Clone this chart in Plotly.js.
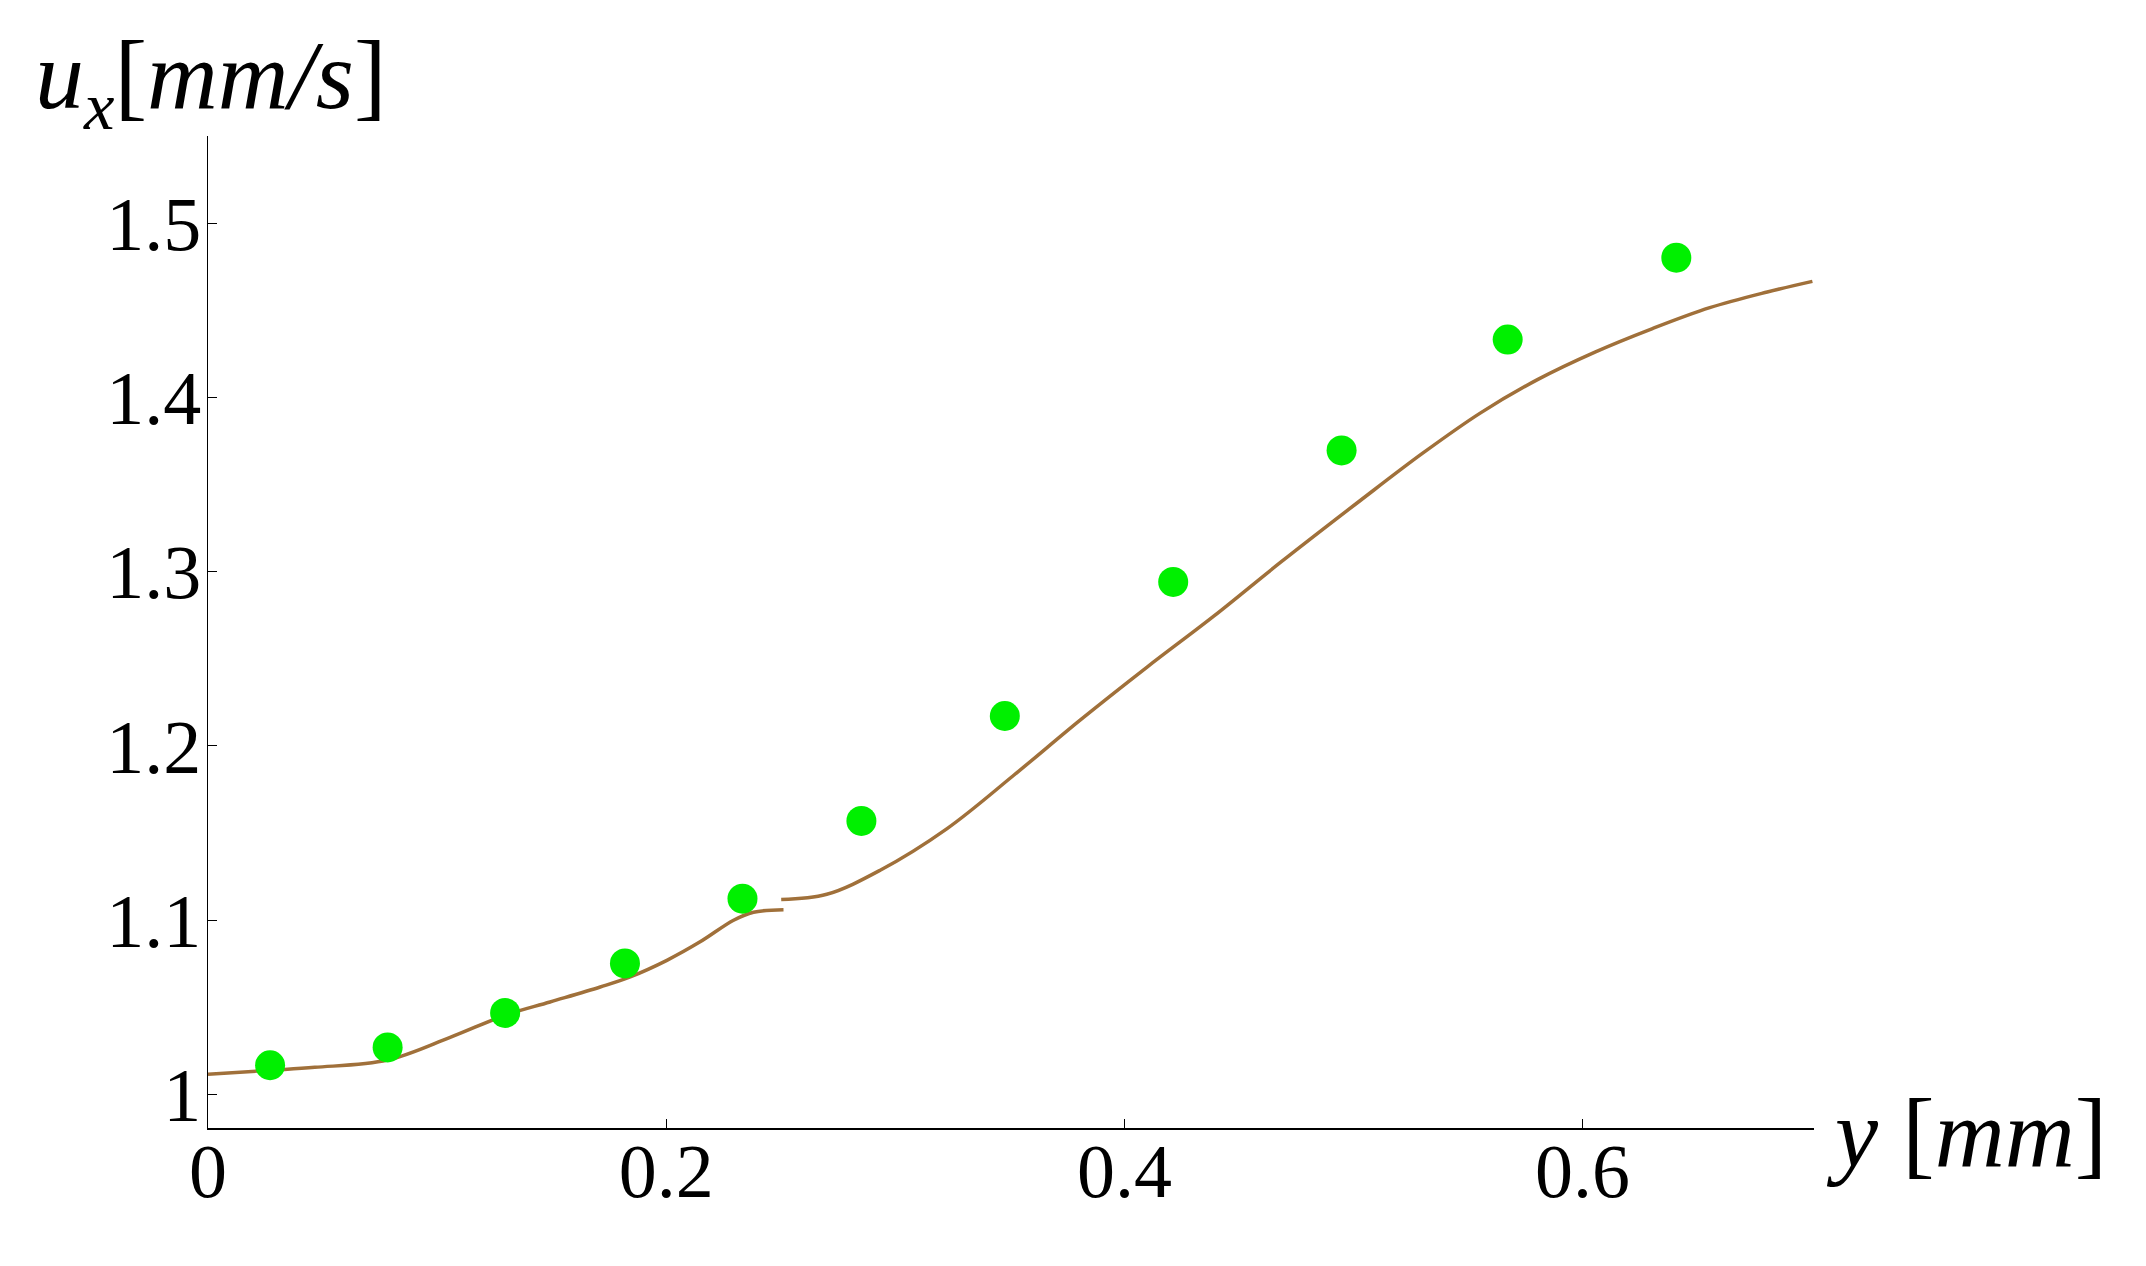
<!DOCTYPE html>
<html>
<head>
<meta charset="utf-8">
<script src="https://cdn.plot.ly/plotly-3.0.1.min.js"></script>
<style>html,body{margin:0;padding:0;background:#fff;}#chart{width:2146px;height:1266px;}</style>
</head>
<body>
<div id="chart"></div>
<script>
// Measured points (green dots)
const pointsX = [0.0271, 0.0784, 0.1297, 0.1820, 0.2333, 0.2852, 0.3478, 0.4213, 0.4948, 0.5673, 0.6409];
const pointsY = [1.0168, 1.0270, 1.0468, 1.0752, 1.1124, 1.1570, 1.2172, 1.2941, 1.3696, 1.4332, 1.4802];

// Model curve, first segment
const curve1X = [0.0000, 0.0271, 0.0466, 0.0784, 0.1057, 0.1297, 0.1493, 0.1712, 0.1843, 0.2003, 0.2148, 0.2294, 0.2381, 0.2512];
const curve1Y = [1.0116, 1.0139, 1.0156, 1.0198, 1.0328, 1.0455, 1.0531, 1.0617, 1.0675, 1.0770, 1.0876, 1.1000, 1.1046, 1.1061];

// Model curve, second segment
const curve2X = [0.2502, 0.2701, 0.2934, 0.3226, 0.3517, 0.3808, 0.4099, 0.4390, 0.4681, 0.5031, 0.5302, 0.5553, 0.5803, 0.6054, 0.6305, 0.6555, 0.6806, 0.7003];
const curve2Y = [1.1119, 1.1149, 1.1287, 1.1526, 1.1832, 1.2150, 1.2453, 1.2745, 1.3053, 1.3410, 1.3680, 1.3910, 1.4102, 1.4260, 1.4395, 1.4515, 1.4605, 1.4666];

const xTickVals = [0, 0.2, 0.4, 0.6];
const xTickText = ['0', '0.2', '0.4', '0.6'];
const yTickVals = [1.0, 1.1, 1.2, 1.3, 1.4, 1.5];
const yTickText = ['1', '1.1', '1.2', '1.3', '1.4', '1.5'];

const curveColor = '#a0703a';
const dotColor = '#00f000';
const serif = 'Liberation Serif, Times New Roman, serif';

const traces = [
  {x: curve1X, y: curve1Y, mode: 'lines', type: 'scatter', line: {color: curveColor, width: 3.5, shape: 'spline', smoothing: 1}, hoverinfo: 'skip'},
  {x: curve2X, y: curve2Y, mode: 'lines', type: 'scatter', line: {color: curveColor, width: 3.5, shape: 'spline', smoothing: 1}, hoverinfo: 'skip'},
  {x: pointsX, y: pointsY, mode: 'markers', type: 'scatter', marker: {color: dotColor, size: 30, line: {width: 0}}}
];

const axisCommon = {
  showgrid: false, zeroline: false, showline: true, linecolor: '#000', linewidth: 1.5,
  ticks: 'inside', ticklen: 9, tickwidth: 1, tickcolor: '#000',
  tickfont: {family: serif, size: 76, color: '#000'}, tickmode: 'array', fixedrange: true
};

const layout = {
  width: 2146, height: 1266,
  margin: {l: 208, r: 332, t: 136, b: 138, pad: 0},
  paper_bgcolor: '#fff', plot_bgcolor: '#fff',
  showlegend: false,
  xaxis: Object.assign({}, axisCommon, {range: [0, 0.701], tickvals: xTickVals, ticktext: xTickText, ticklabelstandoff: -24}),
  yaxis: Object.assign({}, axisCommon, {range: [0.9808, 1.55], tickvals: yTickVals, ticktext: yTickText, ticklabelstandoff: -10}),
  annotations: [
    {text: '<i>y</i> [<i>mm</i>]', xref: 'paper', yref: 'paper', x: 1.006, y: -0.006, xanchor: 'left', yanchor: 'middle', showarrow: false, font: {family: serif, size: 97, color: '#000'}},
    {text: '<i>u<sub>x</sub></i>[<i>mm/s</i>]', xref: 'paper', yref: 'paper', x: -0.109, y: 1.054, xanchor: 'left', yanchor: 'middle', showarrow: false, font: {family: serif, size: 98, color: '#000'}}
  ]
};

Plotly.newPlot('chart', traces, layout, {displayModeBar: false, staticPlot: true});
</script>
</body>
</html>
